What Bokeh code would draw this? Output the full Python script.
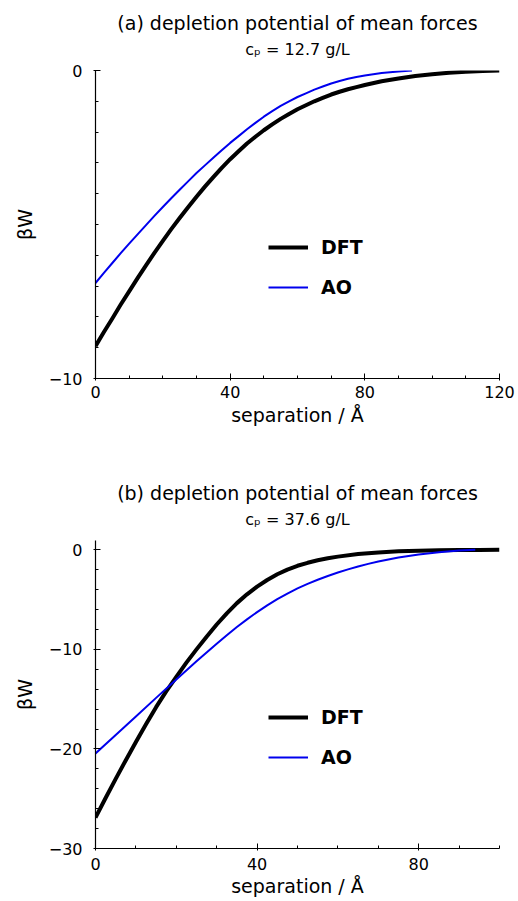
from bokeh.plotting import figure
from bokeh.models import Range1d, FixedTicker, Legend, LegendItem, Title
from bokeh.layouts import column
from bokeh.embed import file_html
from bokeh.resources import INLINE

FONT = "DejaVu Sans"

# ---------------- data ----------------
# panel (a): c_p = 12.7 g/L
dft_a_x = [0, 2.5, 5, 7.5, 10, 12.5, 15, 17.5, 20, 22.5, 25, 27.5, 30, 32.5, 35, 37.5, 40, 42.5, 45, 47.5,
           50, 52.5, 55, 57.5, 60, 62.5, 65, 67.5, 70, 72.5, 75, 77.5, 80, 85, 90, 95, 100, 105, 110, 115, 120]
dft_a_y = [-8.95, -8.49, -8.05, -7.6, -7.17, -6.74, -6.33, -5.92, -5.53, -5.15, -4.79, -4.44, -4.1, -3.77,
           -3.46, -3.16, -2.88, -2.62, -2.37, -2.15, -1.94, -1.75, -1.57, -1.41, -1.26, -1.13, -1.0, -0.89,
           -0.78, -0.69, -0.61, -0.54, -0.47, -0.35, -0.26, -0.18, -0.12, -0.07, -0.04, -0.015, 0.0]
ao_a_x = [0, 2.5, 5, 7.5, 10, 12.5, 15, 17.5, 20, 22.5, 25, 27.5, 30, 32.5, 35, 37.5, 40, 42.5, 45, 47.5,
          50, 52.5, 55, 57.5, 60, 62.5, 65, 67.5, 70, 72.5, 75, 77.5, 80, 82.5, 85, 87.5, 90, 94]
ao_a_y = [-6.9, -6.57, -6.25, -5.93, -5.62, -5.32, -5.02, -4.72, -4.43, -4.15, -3.87, -3.6, -3.33, -3.08,
          -2.83, -2.59, -2.35, -2.13, -1.91, -1.7, -1.5, -1.32, -1.15, -1.0, -0.86, -0.74, -0.62, -0.52,
          -0.42, -0.34, -0.27, -0.21, -0.16, -0.12, -0.08, -0.055, -0.03, 0.0]

# panel (b): c_p = 37.6 g/L
dft_b_x = [0, 2.5, 5, 7.5, 10, 12.5, 15, 17.5, 20, 22.5, 25, 27.5, 30, 32.5, 35, 37.5, 40, 42.5, 45, 47.5,
           50, 52.5, 55, 57.5, 60, 65, 70, 75, 80, 85, 90, 95, 100]
dft_b_y = [-26.9, -24.93, -23.0, -21.13, -19.3, -17.52, -15.8, -14.22, -12.75, -11.33, -10.0, -8.72, -7.5,
           -6.38, -5.35, -4.47, -3.7, -3.03, -2.45, -1.98, -1.6, -1.3, -1.05, -0.85, -0.68, -0.42, -0.26,
           -0.15, -0.08, -0.04, -0.02, -0.01, 0.0]
ao_b_x = [0, 5, 10, 15, 20, 25, 27.5, 30, 32.5, 35, 37.5, 40, 42.5, 45, 47.5, 50, 52.5, 55, 57.5, 60,
          62.5, 65, 67.5, 70, 72.5, 75, 80, 85, 90, 94]
ao_b_y = [-20.45, -18.59, -16.73, -14.87, -13.03, -11.2, -10.3, -9.42, -8.57, -7.75, -6.98, -6.25, -5.58,
          -4.95, -4.39, -3.87, -3.42, -3.0, -2.62, -2.28, -1.96, -1.67, -1.41, -1.17, -0.96, -0.77, -0.46,
          -0.23, -0.07, 0.0]

# ticks
xt_a_major = [0, 40, 80, 120]
xt_a_minor = [0, 10, 20, 30, 40, 50, 60, 70, 80, 90, 100, 110, 120]
yt_a_major = [-10, 0]
yt_a_labels = ["\u221210", "0"]
yt_a_minor = [-10, -9, -8, -7, -6, -5, -4, -3, -2, -1, 0]

xt_b_major = [0, 40, 80]
xt_b_minor = [0, 10, 20, 30, 40, 50, 60, 70, 80, 90, 100]
yt_b_major = [-30, -20, -10, 0]
yt_b_labels = ["\u221230", "\u221220", "\u221210", "0"]
yt_b_minor = [-30, -28, -26, -24, -22, -20, -18, -16, -14, -12, -10, -8, -6, -4, -2, 0]

titles = ["(a) depletion potential of mean forces", "(b) depletion potential of mean forces"]
subtitles = ["c\u209a = 12.7 g/L", "c\u209a = 37.6 g/L"]
series_names = ["DFT", "AO"]
x_label = "separation / \u00c5"
y_label = "\u03b2W"


def make_panel(h, top, bottom, xr, yr, dx, dy, ax, ay, xmaj, xmin, ymaj, ylab, ymin,
               title, sub, xstand, lstand):
    p = figure(width=518, height=h, output_backend="svg", toolbar_location=None, tools="",
               title=None, x_range=Range1d(*xr), y_range=Range1d(*yr),
               min_border_left=95, min_border_right=19, min_border_top=top, min_border_bottom=bottom)
    p.outline_line_color = None
    p.background_fill_color = "white"
    p.border_fill_color = "white"
    p.xgrid.visible = False
    p.ygrid.visible = False

    r1 = p.line(dx, dy, line_color="black", line_width=4, line_join="round")
    r2 = p.line(ax, ay, line_color="#0000ee", line_width=2, line_join="round")

    for axis in (p.xaxis[0], p.yaxis[0]):
        axis.axis_line_color = "black"
        axis.axis_line_width = 1.2
        axis.major_tick_line_color = "black"
        axis.minor_tick_line_color = "black"
        axis.major_tick_in = 5
        axis.major_tick_out = 2
        axis.minor_tick_in = 3
        axis.minor_tick_out = 0
        axis.major_label_text_font = FONT
        axis.major_label_text_font_size = "16px"
        axis.major_label_text_color = "black"
        axis.axis_label_text_font = FONT
        axis.axis_label_text_font_size = "19px"
        axis.axis_label_text_font_style = "normal"
        axis.axis_label_text_color = "black"

    p.xaxis.ticker = FixedTicker(ticks=xmaj, minor_ticks=xmin)
    p.yaxis.ticker = FixedTicker(ticks=ymaj, minor_ticks=ymin)
    p.yaxis.major_label_overrides = {v: s for v, s in zip(ymaj, ylab)}
    p.xaxis.major_label_standoff = xstand
    p.xaxis.axis_label_standoff = lstand
    p.yaxis.major_label_standoff = 11
    p.yaxis.axis_label_standoff = 10
    p.xaxis.axis_label = x_label
    p.yaxis.axis_label = y_label

    legend = Legend(items=[LegendItem(label=series_names[0], renderers=[r1]),
                           LegendItem(label=series_names[1], renderers=[r2])],
                    location=(173, 80), padding=0, margin=0, spacing=18,
                    glyph_width=40, glyph_height=22, label_height=22, label_standoff=13,
                    label_text_font=FONT, label_text_font_size="19px", label_text_font_style="bold",
                    label_text_color="black",
                    border_line_alpha=0, background_fill_alpha=0)
    p.add_layout(legend)

    # thin spacer between the frame and the sub-title
    p.add_layout(Title(text=" ", align="center", vertical_align="bottom", standoff=0,
                       text_font=FONT, text_font_size="5px", text_color="white"), "above")
    p.add_layout(Title(text=sub, align="center", vertical_align="bottom", standoff=0, padding=4,
                       text_font=FONT, text_font_size="16px", text_font_style="normal",
                       text_color="black"), "above")
    p.add_layout(Title(text=title, align="center", vertical_align="bottom", standoff=0,
                       text_font=FONT, text_font_size="19px", text_font_style="normal",
                       text_color="black"), "above")
    return p


pa = make_panel(450, 70, 72, (0, 120), (-10, 0), dft_a_x, dft_a_y, ao_a_x, ao_a_y,
                xt_a_major, xt_a_minor, yt_a_major, yt_a_labels, yt_a_minor,
                titles[0], subtitles[0], 5, 3)
pb = make_panel(451, 90, 53, (0, 100), (-30, 0.94), dft_b_x, dft_b_y, ao_b_x, ao_b_y,
                xt_b_major, xt_b_minor, yt_b_major, yt_b_labels, yt_b_minor,
                titles[1], subtitles[1], 7, 2)

layout = column(pa, pb, spacing=0)
open("out.html", "w").write(file_html(layout, INLINE))
